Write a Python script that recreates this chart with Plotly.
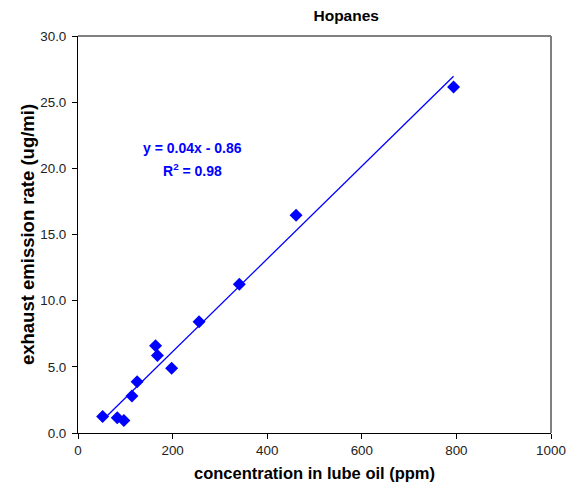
import numpy as np
import plotly.graph_objects as go

# Data
conc_ppm = [52, 83, 97, 114, 125, 164, 168, 198, 256, 341, 461, 794]
emission = [1.25, 1.15, 0.95, 2.8, 3.87, 6.6, 5.85, 4.9, 8.4, 11.25, 16.45, 26.15]

x_ticks = [0, 200, 400, 600, 800, 1000]
y_ticks = [0, 5, 10, 15, 20, 25, 30]

chart_title = "Hopanes"
x_title = "concentration in lube oil (ppm)"
y_title = "exhaust emission rate (ug/mi)"
eq_text = "y = 0.04x - 0.86"
r2_text = "R<sup>2</sup> = 0.98"

FONT = "Arial, Liberation Sans, sans-serif"
BLUE = "#0000FF"

# linear trendline over the data range
slope, intercept = np.polyfit(conc_ppm, emission, 1)
xl = np.array([min(conc_ppm), max(conc_ppm)])
yl = slope * xl + intercept

fig = go.Figure()
fig.add_trace(go.Scatter(x=xl, y=yl, mode="lines",
                         line=dict(color=BLUE, width=1.3), showlegend=False,
                         hoverinfo="skip"))
fig.add_trace(go.Scatter(x=conc_ppm, y=emission, mode="markers",
                         marker=dict(symbol="diamond", size=10, color=BLUE),
                         showlegend=False))

fig.update_layout(
    width=578, height=492,
    margin=dict(l=78, r=27, t=36, b=59),
    plot_bgcolor="white", paper_bgcolor="white",
    font=dict(family=FONT, size=13, color="black"),
    title=dict(text="<b>%s</b>" % chart_title, x=0.599, xref="container",
               xanchor="center", y=1 - 15.7 / 492, yanchor="middle",
               font=dict(size=15.5, family=FONT, color="black")),
    xaxis=dict(range=[0, 1000], tickvals=x_ticks, automargin=False,
               showgrid=False, zeroline=False, showline=True, linecolor="black",
               linewidth=1, ticks="outside", ticklen=5, tickcolor="black",
               tickfont=dict(size=13.4, family=FONT, color="#222222"),
               title=dict(text="<b>%s</b>" % x_title, standoff=10,
                          font=dict(size=16.5, family=FONT, color="black"))),
    yaxis=dict(range=[0, 30], tickvals=y_ticks, tickformat=".1f", automargin=False,
               showgrid=False, zeroline=False, showline=True, linecolor="black",
               linewidth=1, ticks="outside", ticklen=5, tickcolor="black",
               ticklabelstandoff=3,
               tickfont=dict(size=13.4, family=FONT, color="#222222"),
               title=dict(text="<b>%s</b>" % y_title, standoff=0,
                          font=dict(size=18.5, family=FONT, color="black"))),
    shapes=[
        dict(type="line", xref="paper", yref="paper", x0=0, x1=1, y0=1, y1=1,
             line=dict(color="#808080", width=2)),
        dict(type="line", xref="paper", yref="paper", x0=1, x1=1, y0=0, y1=1,
             line=dict(color="#808080", width=2)),
    ],
    annotations=[
        dict(x=243, y=21.5, xref="x", yref="y", text="<b>%s</b>" % eq_text,
             showarrow=False, font=dict(size=14, family=FONT, color=BLUE)),
        dict(x=243, y=19.9, xref="x", yref="y", text="<b>%s</b>" % r2_text,
             showarrow=False, font=dict(size=14, family=FONT, color=BLUE)),
    ],
)

fig.write_html("out.html")
